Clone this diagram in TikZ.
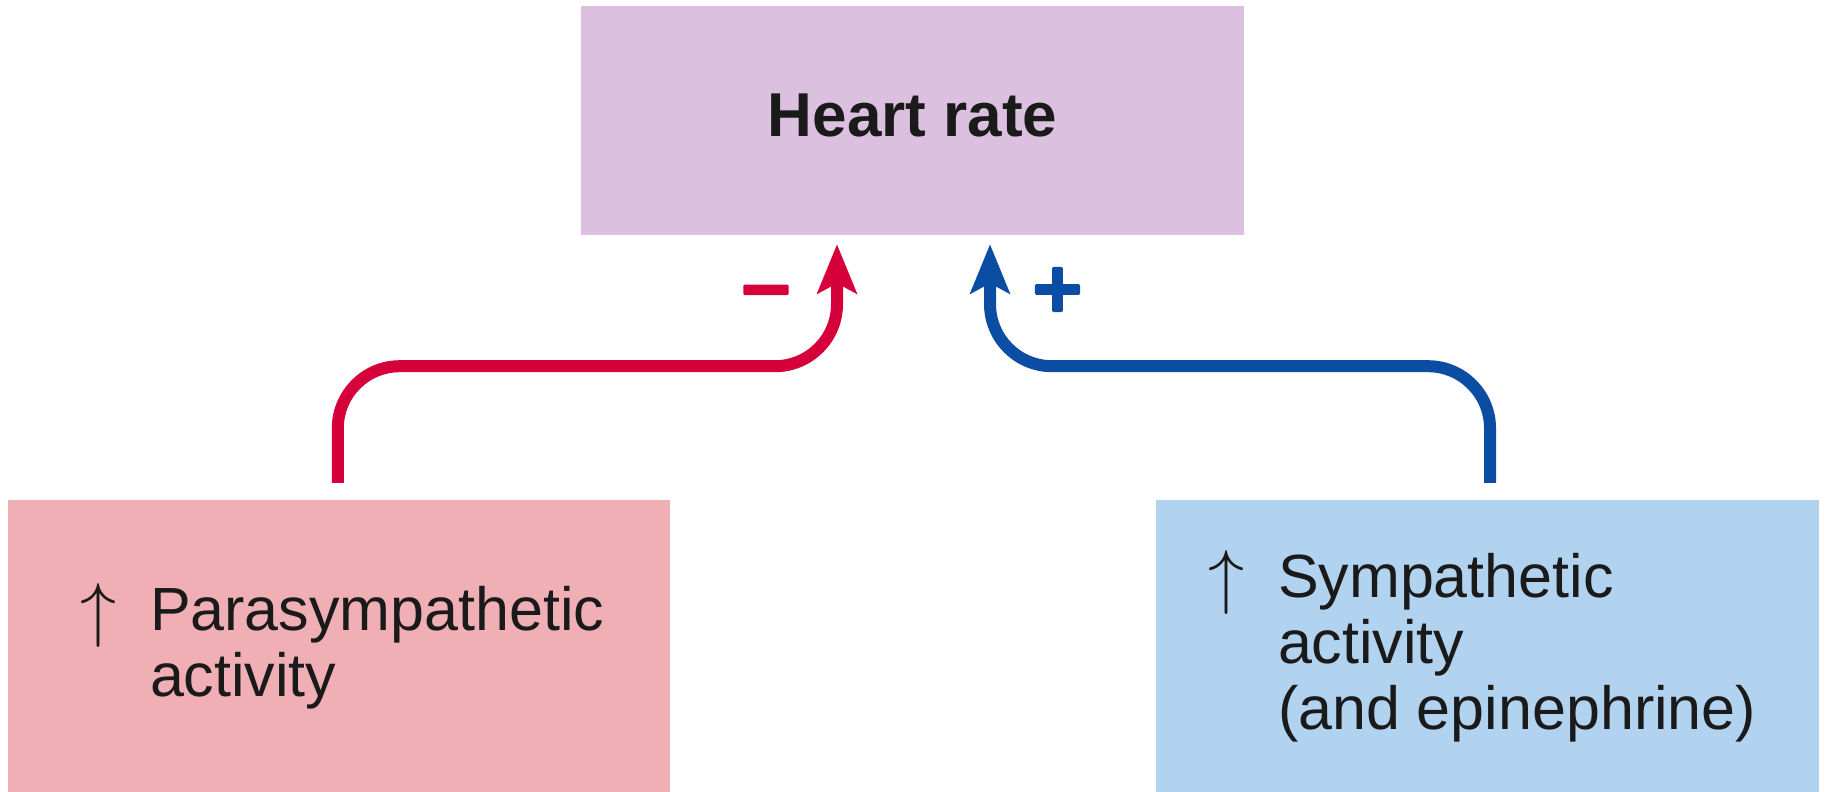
\documentclass[tikz,border=0pt]{standalone}
\usepackage{fix-cm}
\usepackage{fontspec}
\setmainfont{Liberation Sans}
\newfontfamily\signfont{DejaVu Sans}[UprightFont={* Bold},FakeBold=4]
\usetikzlibrary{arrows.meta,positioning}
\definecolor{hrLilac}{HTML}{DBC1DF}
\definecolor{hrPink}{HTML}{EFAFB5}
\definecolor{hrSky}{HTML}{B2D3F0}
\definecolor{hrRed}{HTML}{D6003A}
\definecolor{hrBlue}{HTML}{0B4DA2}
\definecolor{hrInk}{HTML}{1A1A1A}
\newcommand{\upmark}{\llap{\raisebox{-3pt}{\fontsize{72}{72}\selectfont$\uparrow$}\hspace{34pt}}}

\begin{document}
\begin{tikzpicture}[x=1pt,y=-1pt,line join=round]
\path[fill=white] (0,0) rectangle (1825,792);
\tikzset{panel/.style={inner sep=0pt,minimum width=663pt,text=hrInk},body/.style={align=left,inner sep=0pt,text=hrInk,font=\fontsize{61}{66}\selectfont},lead/.style={line width=12pt,rounded corners=62pt,-{Stealth[length=49pt,width=39pt,inset=10pt]}},sign/.style={inner sep=0pt,font=\signfont\fontsize{68}{68}\selectfont}}
% boxes
\node[panel,fill=hrLilac,minimum height=229pt,text depth=10pt,font=\bfseries\fontsize{62}{62}\selectfont] (heart) at (912.5,120.5) {Heart rate};
\node[panel,fill=hrPink,minimum width=662pt,minimum height=292pt] (para) at (339,646) {};
\node[panel,fill=hrSky,minimum height=292pt] (symp) at (1487.5,646) {};
\node[body,right=142pt of para.west] (paratext) {\upmark Parasympathetic\\activity};
\node[body,right=122pt of symp.west] (symptext) {\upmark Sympathetic\\activity\\(and epinephrine)};
% connectors
\draw[lead,hrRed] ([xshift=330pt,yshift=17pt]para.north west) |- ([xshift=-75.5pt,yshift=-131pt]heart.south) -- ([xshift=-75.5pt,yshift=-9pt]heart.south);
\draw[lead,hrBlue] ([xshift=2.5pt,yshift=17pt]symp.north) |- ([xshift=77.5pt,yshift=-131pt]heart.south) -- ([xshift=77.5pt,yshift=-9pt]heart.south);
\node[sign,text=hrRed] (minus) at (766,298.5) {−}; \node[sign,text=hrBlue] (plus) at (1057.5,289.5) {+};
\end{tikzpicture}
\end{document}
